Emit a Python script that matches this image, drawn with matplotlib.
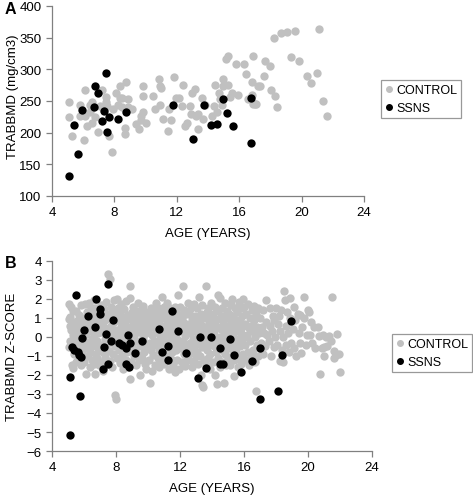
import matplotlib.pyplot as plt
import numpy as np
from matplotlib.lines import Line2D

# panel A: trabecular BMD vs age
ctrl_a = [
    (5.06, 248), (5.06, 225), (5.29, 195), (5.8, 243), (5.8, 226), (6.05, 188), (6.14, 268),
    (6.1, 226), (6.26, 210), (6.43, 243), (6.43, 233), (6.58, 248), (6.58, 215), (6.75, 224),
    (6.92, 201), (7.07, 242), (7.23, 268), (7.45, 257), (7.45, 248), (7.53, 242), (7.66, 194),
    (7.83, 170), (7.91, 237), (8.12, 263), (8.23, 243), (8.33, 273), (8.33, 254), (8.5, 254),
    (8.5, 240), (8.65, 208), (8.65, 198), (8.71, 280), (8.86, 253), (8.86, 240), (9.1, 237),
    (9.39, 213), (9.6, 206), (9.71, 226), (9.71, 220), (9.86, 273), (9.86, 258), (9.86, 232),
    (10.03, 216), (10.49, 258), (10.58, 237), (10.83, 284), (10.91, 273), (10.91, 244),
    (10.98, 270), (11.12, 221), (11.46, 203), (11.51, 237), (11.63, 220), (11.82, 288),
    (11.93, 255), (12.14, 255), (12.31, 242), (12.41, 275), (12.52, 210), (12.67, 215),
    (12.82, 242), (12.94, 229), (12.99, 263), (13.15, 269), (13.2, 226), (13.37, 229),
    (13.37, 206), (13.62, 255), (13.66, 221), (13.83, 243), (14.25, 226), (14.36, 242),
    (14.47, 276), (14.57, 232), (14.68, 263), (14.76, 253), (14.89, 244), (14.93, 284),
    (14.99, 274), (15.14, 316), (15.27, 321), (15.31, 275), (15.44, 257), (15.52, 263),
    (15.78, 308), (15.95, 260), (16.33, 308), (16.41, 292), (16.54, 253), (16.79, 280),
    (16.83, 260), (16.9, 321), (16.9, 245), (17.0, 246), (17.05, 245), (17.21, 274),
    (17.32, 274), (17.59, 290), (17.68, 313), (17.95, 305), (18.06, 268), (18.23, 350),
    (18.27, 258), (18.44, 241), (18.69, 357), (19.07, 359), (19.33, 320), (19.6, 360),
    (19.86, 313), (20.34, 290), (20.6, 278), (20.98, 294), (21.12, 364), (21.34, 250),
    (21.65, 226),
]
ssns_a = [
    (5.06, 132), (5.38, 212), (5.69, 166), (5.95, 236), (6.69, 241), (6.75, 273), (6.94, 262),
    (7.19, 218), (7.32, 234), (7.45, 294), (7.53, 201), (7.64, 224), (8.21, 221), (8.71, 233),
    (11.74, 243), (13.03, 190), (13.77, 243), (14.19, 212), (14.55, 213), (14.97, 253),
    (15.23, 231), (15.6, 211), (16.73, 254), (16.73, 183),
]

# panel B: trabecular BMD z-score vs age
ctrl_b = [
    (5.03, 1.72), (5.06, -0.55), (5.08, 0.95), (5.1, 0.6), (5.12, -0.2), (5.15, 1.05), (5.18, 1.6),
    (5.2, 0.35), (5.22, -0.3), (5.25, -1.5), (5.28, 0.1), (5.3, 1.35), (5.33, -1.62), (5.35, -0.9),
    (5.4, 0.8), (5.42, -0.1), (5.45, 0.5), (5.48, -1.3),
    (5.52, 1.35), (5.55, 0.2), (5.58, -0.4), (5.6, 0.9), (5.62, -1.2), (5.65, 0.55), (5.68, -0.15),
    (5.7, 1.15), (5.74, -0.7), (5.78, 0.35), (5.8, -1.5), (5.83, 1.7), (5.86, 0.0), (5.9, -0.9),
    (5.93, 0.7), (5.96, -0.45), (5.98, 1.0),
    (6.02, -1.3), (6.05, 0.45), (6.08, 1.75), (6.1, -1.96), (6.12, -0.6), (6.15, 0.15), (6.18, 1.3),
    (6.2, -0.25), (6.24, 0.8), (6.27, -1.0), (6.3, 1.8), (6.33, 0.3), (6.36, -0.8), (6.39, -1.6),
    (6.42, 0.6), (6.45, 1.5), (6.47, -0.1), (6.49, -1.2),
    (6.52, 0.95), (6.54, -0.5), (6.57, 1.2), (6.6, 0.1), (6.63, -1.4), (6.65, 1.95), (6.67, -1.96),
    (6.7, 0.4), (6.72, -0.9), (6.75, 1.55), (6.78, -0.2), (6.8, 0.75), (6.83, -1.1), (6.86, 1.05),
    (6.88, 0.2), (6.9, -0.6), (6.93, -1.5), (6.96, 1.3), (6.98, 0.5),
    (7.02, -0.4), (7.04, 1.7), (7.07, 0.8), (7.1, -1.3), (7.12, 0.25), (7.15, 1.1), (7.18, -0.8),
    (7.2, -1.8), (7.22, 0.55), (7.25, 1.45), (7.28, -0.1), (7.3, 0.9), (7.33, -1.05), (7.36, 1.85),
    (7.38, 0.0), (7.4, -0.55), (7.43, 1.2), (7.46, -1.4), (7.48, 0.4),
    (7.52, 3.33), (7.55, -0.75), (7.58, 1.0), (7.6, 0.3), (7.62, 3.07), (7.65, -1.25), (7.68, 1.6),
    (7.7, 0.6), (7.72, -0.3), (7.75, -1.6), (7.78, 1.3), (7.8, 0.05), (7.83, -0.9), (7.86, 0.8),
    (7.9, 1.95), (7.93, -0.45), (7.95, -3.07), (7.98, -3.25), (7.97, 1.1),
    (8.02, 0.35), (8.04, -1.1), (8.07, 2.0), (8.1, 0.9), (8.12, -0.2), (8.15, 1.5), (8.18, -0.7),
    (8.2, 0.15), (8.22, -1.35), (8.25, 1.2), (8.28, 0.5), (8.3, -0.5), (8.33, 1.75), (8.36, -1.0),
    (8.38, 0.7), (8.4, -0.05), (8.43, 1.05), (8.46, -1.7), (8.48, 0.3),
    (8.52, 1.45), (8.55, -0.3), (8.58, 0.85), (8.6, -1.2), (8.62, 0.2), (8.65, 1.9), (8.68, -0.8),
    (8.7, 0.55), (8.73, -1.6), (8.76, 1.15), (8.78, -0.1), (8.8, 0.95), (8.83, -0.6), (8.86, 2.05),
    (8.9, 2.68), (8.9, -2.19), (8.92, 0.4), (8.95, -1.3), (8.98, 1.3),
    (9.02, -0.4), (9.05, 0.7), (9.08, 1.6), (9.1, -1.0), (9.13, 0.1), (9.16, 1.0), (9.18, -0.7),
    (9.2, 0.5), (9.23, -1.5), (9.26, 1.35), (9.28, -0.2), (9.3, 0.85), (9.33, -0.9), (9.36, 1.8),
    (9.38, 0.25), (9.41, -1.2), (9.44, 0.6), (9.47, -2.0), (9.49, 1.15),
    (9.52, -0.5), (9.55, 0.35), (9.58, 1.4), (9.6, -1.1), (9.63, 0.9), (9.66, -0.15), (9.68, 1.65),
    (9.7, 0.0), (9.73, -0.8), (9.76, 1.1), (9.78, -1.4), (9.8, 0.55), (9.83, -0.35), (9.86, 1.3),
    (9.88, 0.2), (9.9, -1.7), (9.93, 0.75), (9.96, -0.6), (9.98, 1.0),
    (10.02, 0.4), (10.05, -1.2), (10.08, 1.2), (10.1, -0.3), (10.13, 0.8), (10.15, -2.42),
    (10.18, 1.55), (10.2, -0.7), (10.23, 0.1), (10.26, -1.8), (10.28, 1.0), (10.3, 0.5),
    (10.33, -0.95), (10.36, 1.3), (10.38, -0.2), (10.41, 0.65), (10.44, -1.45), (10.47, 0.25),
    (10.49, 1.8),
    (10.52, -0.4), (10.55, 1.1), (10.58, 0.3), (10.6, -1.1), (10.63, 1.5), (10.66, -0.7),
    (10.68, 0.85), (10.7, -1.6), (10.73, 0.0), (10.76, 1.25), (10.78, -0.3), (10.8, 0.6),
    (10.83, -1.25), (10.86, 2.1), (10.88, 0.35), (10.9, -0.9), (10.93, 1.0), (10.96, -0.1),
    (10.98, 1.6),
    (11.02, -1.4), (11.05, 0.5), (11.08, 1.35), (11.1, -0.6), (11.13, 0.15), (11.16, 1.8),
    (11.18, -1.0), (11.2, 0.7), (11.23, -0.25), (11.26, 1.1), (11.28, -1.7), (11.3, 0.3),
    (11.33, -0.5), (11.36, 1.5), (11.38, 0.9), (11.41, -1.15), (11.44, 0.0), (11.47, -0.8),
    (11.49, 1.2),
    (11.52, 0.45), (11.55, -1.5), (11.58, 1.0), (11.6, -0.35), (11.63, 0.75), (11.66, -1.85),
    (11.68, 1.6), (11.7, 0.1), (11.73, -0.7), (11.76, 1.3), (11.78, -0.1), (11.8, 0.55),
    (11.83, -1.2), (11.86, 2.2), (11.88, 0.9), (11.9, -0.45), (11.93, 1.15), (11.96, -1.7),
    (11.98, 0.3),
    (12.02, 1.6), (12.05, -0.6), (12.08, 0.4), (12.1, -1.3), (12.13, 1.0), (12.16, 2.68),
    (12.18, -0.2), (12.2, 0.8), (12.23, -0.9), (12.26, 1.4), (12.28, 0.05), (12.3, -1.55),
    (12.33, 0.6), (12.36, -0.4), (12.38, 1.2), (12.41, -1.0), (12.44, 0.25), (12.47, 1.8),
    (12.49, -0.7),
    (12.52, 0.7), (12.55, -1.2), (12.58, 1.3), (12.6, -0.3), (12.63, 0.2), (12.66, -0.85),
    (12.68, 1.55), (12.7, 0.5), (12.73, -1.6), (12.76, 1.0), (12.78, -0.1), (12.8, -0.6),
    (12.83, 0.85), (12.86, 1.75), (12.88, -1.3), (12.9, 0.3), (12.93, -0.4), (12.96, 1.1),
    (12.98, -1.0),
    (13.02, 0.55), (13.05, -0.8), (13.08, 1.5), (13.1, 0.0), (13.13, -1.4), (13.16, 2.1),
    (13.18, 0.9), (13.2, -0.35), (13.23, 0.35), (13.26, -1.0), (13.28, 1.2), (13.3, -2.0),
    (13.33, 0.65), (13.35, -2.54), (13.38, -0.55), (13.4, 1.7), (13.42, -2.62), (13.45, 0.15),
    (13.48, -1.2),
    (13.52, 1.0), (13.55, -0.2), (13.58, 0.5), (13.6, -1.5), (13.63, 2.68), (13.66, 1.3),
    (13.68, -0.7), (13.7, 0.2), (13.73, -1.1), (13.76, 1.55), (13.78, 0.75), (13.8, -0.4),
    (13.83, 0.1), (13.86, -1.7), (13.88, 1.0), (13.9, -0.9), (13.93, 0.45), (13.96, 1.8),
    (13.98, -0.15),
    (14.02, 0.6), (14.05, -1.3), (14.08, 1.2), (14.1, -0.5), (14.13, 0.3), (14.16, -2.0),
    (14.18, 1.6), (14.2, -0.1), (14.23, 0.9), (14.26, -0.8), (14.3, -2.46), (14.32, 0.5),
    (14.35, 1.35), (14.38, -1.1), (14.4, 2.2), (14.42, 0.0), (14.45, -0.4), (14.47, 1.0),
    (14.49, -1.6),
    (14.52, 2.05), (14.55, 0.4), (14.58, -0.7), (14.6, 1.5), (14.63, -1.3), (14.66, 0.75),
    (14.68, -0.2), (14.7, 1.1), (14.73, -2.4), (14.76, 0.2), (14.78, -0.9), (14.8, 1.8),
    (14.83, 0.55), (14.86, -1.5), (14.88, 1.0), (14.9, -0.45), (14.93, 0.1), (14.96, 1.35),
    (14.98, -1.1),
    (15.02, 0.6), (15.05, -0.6), (15.08, 1.2), (15.1, -1.5), (15.13, 0.3), (15.16, 1.7),
    (15.18, -0.2), (15.2, 0.8), (15.23, -1.0), (15.26, 2.0), (15.28, 0.05), (15.3, -0.7),
    (15.33, 1.1), (15.36, -2.05), (15.38, 0.45), (15.4, -1.2), (15.43, 1.5), (15.46, -0.35),
    (15.48, 0.9),
    (15.52, -0.8), (15.55, 0.3), (15.58, 1.3), (15.6, -1.6), (15.63, 0.65), (15.66, -0.1),
    (15.68, 1.85), (15.7, -1.1), (15.73, 0.9), (15.76, -0.5), (15.78, 0.2), (15.8, 1.5),
    (15.83, -1.4), (15.86, 0.55), (15.88, -0.3), (15.9, 1.1), (15.93, -0.9), (15.96, 2.0),
    (15.98, 0.0),
    (16.02, 1.6), (16.05, -0.4), (16.08, 0.7), (16.12, -1.2), (16.15, 1.2), (16.18, 0.1),
    (16.22, -0.8), (16.25, 1.75), (16.28, 0.45), (16.32, -1.5), (16.35, 1.0), (16.38, -0.2),
    (16.42, 0.6), (16.46, -1.0), (16.48, 1.4),
    (16.52, 0.3), (16.55, -0.7), (16.6, 1.65), (16.63, 0.9), (16.66, -1.3), (16.7, 0.0),
    (16.73, -2.84), (16.76, 1.2), (16.8, -0.4), (16.83, 0.5), (16.86, 1.5), (16.9, -1.0),
    (16.95, 0.2), (16.98, -0.6),
    (17.03, 1.0), (17.07, -0.3), (17.12, 0.5), (17.16, 1.4), (17.2, -0.9), (17.25, 0.2),
    (17.3, -0.5), (17.35, 0.8), (17.4, 1.95), (17.45, 0.1),
    (17.55, -0.2), (17.6, 1.5), (17.65, 0.6), (17.7, -1.0), (17.75, 0.3), (17.8, 1.1),
    (17.85, -0.55), (17.9, 0.9), (17.95, 0.0),
    (18.03, 1.55), (18.08, -0.4), (18.12, 0.7), (18.18, 1.1), (18.22, -1.25), (18.28, 0.3),
    (18.33, 1.4), (18.38, -0.7), (18.44, 0.0), (18.48, 2.4), (18.46, -1.3),
    (18.55, 1.95), (18.6, 0.6), (18.65, -0.4), (18.7, 1.3), (18.75, 0.2), (18.8, -0.8),
    (18.85, 2.05), (18.9, 1.0), (18.95, -0.3),
    (19.05, 0.4), (19.1, 1.6), (19.15, -0.6), (19.2, 0.9), (19.28, -1.0), (19.35, 1.2),
    (19.42, 0.2), (19.48, -0.3),
    (19.52, 1.14), (19.58, -0.85), (19.65, 0.5), (19.72, 1.0), (19.77, 2.1), (19.85, -0.4),
    (19.92, 0.1),
    (20.02, 1.4), (20.08, 1.3), (20.15, 0.09), (20.2, 0.8), (20.28, -0.3), (20.35, 0.5),
    (20.45, -0.6),
    (20.6, 0.53), (20.7, 0.05), (20.77, -1.93), (20.85, -0.6), (20.92, 0.1), (20.98, -0.55),
    (21.02, -1.02), (21.1, 0.0), (21.2, -0.5), (21.3, 0.05), (21.45, -0.2), (21.52, 2.1),
    (21.6, -0.75), (21.65, -1.1), (21.73, -0.96), (21.83, 0.18), (21.92, -0.9), (21.98, -1.84),
]
ssns_b = [
    (5.1, -5.14), (5.15, -2.1), (5.25, -0.53), (5.4, -0.7), (5.52, 2.23), (5.6, -0.8), (5.7, -0.96),
    (5.73, -3.1), (5.8, -1.05), (5.9, -0.03), (5.98, 0.35), (6.23, 1.1), (6.7, 0.54), (6.77, 2.02),
    (7.02, 1.49), (7.02, 1.23), (7.17, -1.7), (7.27, -0.54), (7.4, 0.18), (7.48, 2.8), (7.5, -1.44),
    (7.71, -0.23), (7.83, 0.91), (8.21, -0.33), (8.38, -0.4), (8.63, -0.58), (8.65, -1.44),
    (8.75, 0.09), (8.79, -1.58), (8.9, -0.3), (9.21, -0.84), (9.65, -0.23), (10.69, 0.44),
    (10.9, -0.81), (11.25, -0.49), (11.25, -1.23), (11.52, 1.35), (11.9, 0.33), (12.38, -0.86),
    (13.13, -2.18), (13.27, 0.02), (13.63, -1.63), (13.94, 0.0), (14.48, -0.56), (14.48, -1.42),
    (14.71, -1.44), (15.1, -0.09), (15.35, -0.96), (15.81, -1.86), (16.5, -1.26), (17.0, -0.6),
    (17.02, -3.25), (18.1, -2.86), (18.35, -0.96), (18.92, 0.86),
]

plt.rcParams['font.family'] = ['Liberation Sans', 'DejaVu Sans']
plt.rcParams['font.size'] = 9.5

gray = '#c0c0c0'
axis_col = '#808080'

fig = plt.figure(figsize=(4.73, 5.02), dpi=100)
axA = fig.add_axes([0.110, 0.6076, 0.6596, 0.3785])
axB = fig.add_axes([0.110, 0.0996, 0.6765, 0.3785])


def style(ax):
    for s in ['top', 'right']:
        ax.spines[s].set_visible(False)
    for s in ['left', 'bottom']:
        ax.spines[s].set_color(axis_col)
        ax.spines[s].set_linewidth(0.9)
    ax.tick_params(direction='out', length=4, width=0.9, color=axis_col, labelsize=9.5)
    ax.set_xlim(4, 24)
    ax.set_xticks([4, 8, 12, 16, 20, 24])
    ax.set_xlabel('AGE (YEARS)', labelpad=6, fontsize=9.5)


for ax, ctrl, ssns in [(axA, ctrl_a, ssns_a), (axB, ctrl_b, ssns_b)]:
    c = np.array(ctrl)
    s = np.array(ssns)
    ax.scatter(c[:, 0], c[:, 1], s=36, color=gray, linewidths=0, clip_on=False, zorder=2)
    ax.scatter(s[:, 0], s[:, 1], s=36, color='black', linewidths=0, clip_on=False, zorder=3)
    style(ax)

axA.set_ylim(100, 400)
axA.set_yticks(range(100, 401, 50))
axA.set_ylabel('TRABBMD (mg/cm3)', fontsize=9.5)
axA.yaxis.set_label_coords(-0.106, 0.53)
axB.set_ylim(-6, 4)
axB.set_yticks(range(-6, 5))
axB.set_ylabel('TRABBMD Z-SCORE', fontsize=9.5)
axB.yaxis.set_label_coords(-0.106, 0.5)

handles = [Line2D([], [], ls='', marker='o', markersize=4, color=gray, label='CONTROL'),
           Line2D([], [], ls='', marker='o', markersize=4, color='black', label='SSNS')]
for x0, y0 in [(381 / 473, 1 - 81 / 502), (392 / 473, 1 - 335 / 502)]:
    leg = fig.legend(handles=handles, loc='upper left', bbox_to_anchor=(x0, y0),
                     frameon=True, fancybox=False, borderaxespad=0, handlelength=0.5,
                     handletextpad=0.35, borderpad=0.35, labelspacing=0.45, fontsize=9)
    leg.get_frame().set_edgecolor(axis_col)
    leg.get_frame().set_linewidth(0.9)

fig.text(0.01, 0.997, 'A', fontsize=11.5, fontweight='bold', va='top')
fig.text(0.01, 0.490, 'B', fontsize=11.5, fontweight='bold', va='top')

fig.savefig('out.png', dpi=100)
